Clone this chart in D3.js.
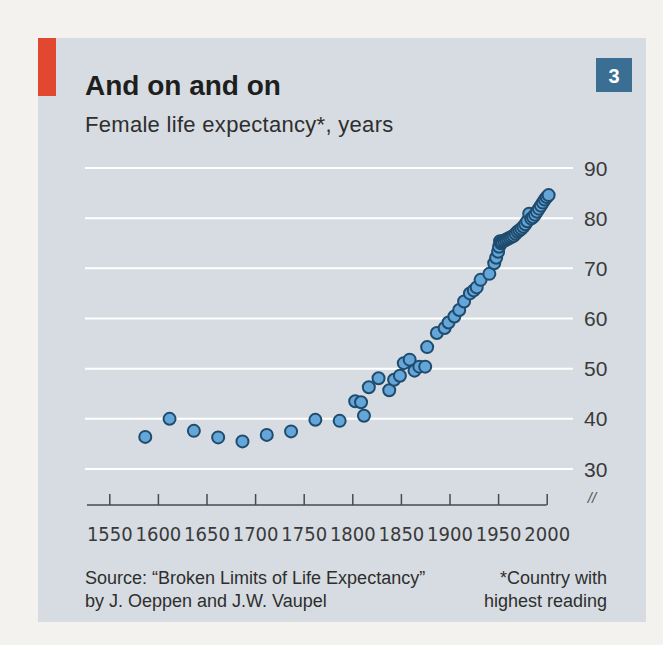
<!DOCTYPE html>
<html>
<head>
<meta charset="utf-8">
<script src="https://cdn.jsdelivr.net/npm/d3@7"></script>
<style>
  body { margin: 0; background: #f3f2ef; }
  svg { display: block; }
  text { font-family: "Liberation Sans", Arial, sans-serif; fill: #2e2e2e; }
</style>
</head>
<body>
<svg id="chart"></svg>
<script>
// Female life expectancy (record, years)
var years = [1587, 1612, 1637, 1662, 1687, 1712, 1737, 1762, 1787,
  1803, 1809, 1812, 1817, 1827, 1838, 1843, 1849, 1853, 1859, 1864, 1869, 1875, 1877,
  1887, 1895, 1899, 1905, 1910, 1915, 1921, 1925, 1928, 1932, 1941, 1946, 1948,
  1950, 1951, 1952, 1953, 1954, 1956, 1958, 1960, 1962, 1964, 1966, 1968, 1970,
  1972, 1974, 1976, 1978, 1980, 1982, 1984, 1986, 1988, 1990, 1992, 1994, 1996,
  1998, 2000, 2002];
var lifeExp = [36.4, 40.0, 37.6, 36.3, 35.5, 36.8, 37.5, 39.8, 39.6,
  43.5, 43.3, 40.6, 46.3, 48.1, 45.7, 47.8, 48.6, 51.1, 51.8, 49.6, 50.4, 50.4, 54.3,
  57.1, 58.1, 59.2, 60.4, 61.7, 63.4, 65.0, 65.6, 66.2, 67.7, 68.9, 71.0, 72.1,
  73.3, 74.3, 75.4, 75.0, 75.3, 75.5, 75.7, 75.9, 76.1, 76.3, 76.5, 76.9, 77.3,
  77.6, 77.9, 78.3, 78.8, 79.4, 80.9, 79.9, 80.2, 80.7, 81.3, 81.9, 82.5, 83.1,
  83.7, 84.2, 84.6];
var yTicks = [30, 40, 50, 60, 70, 80, 90];
var xTicks = [1550, 1600, 1650, 1700, 1750, 1800, 1850, 1900, 1950, 2000];

var width = 663, height = 645;

var svg = d3.select("#chart")
  .attr("width", width)
  .attr("height", height);

// panel
svg.append("rect")
  .attr("x", 38).attr("y", 38)
  .attr("width", 608).attr("height", 584)
  .attr("fill", "#d6dce1");
svg.append("rect")
  .attr("x", 38).attr("y", 38)
  .attr("width", 18).attr("height", 58)
  .attr("fill", "#e2472f");

// title block
svg.append("text")
  .attr("x", 85).attr("y", 95)
  .style("font-size", "28px")
  .style("font-weight", "bold")
  .style("fill", "#1e1e1e")
  .text("And on and on");
svg.append("text")
  .attr("x", 85).attr("y", 132)
  .style("font-size", "22px")
  .style("letter-spacing", "0.3px")
  .text("Female life expectancy*, years");

svg.append("rect")
  .attr("x", 596).attr("y", 58)
  .attr("width", 36).attr("height", 34)
  .attr("fill", "#3b6e93");
svg.append("text")
  .attr("x", 614).attr("y", 83)
  .attr("text-anchor", "middle")
  .style("font-size", "20px")
  .style("font-weight", "bold")
  .style("fill", "#ffffff")
  .text("3");

var x = d3.scaleLinear().domain([1550, 2000]).range([109.3, 546.7]);
var y = d3.scaleLinear().domain([30, 90]).range([469, 168]);

// gridlines + y labels
var grid = svg.append("g");
grid.selectAll("line")
  .data(yTicks)
  .enter().append("line")
  .attr("x1", 85).attr("x2", 573)
  .attr("y1", d => y(d)).attr("y2", d => y(d))
  .attr("stroke", "#ffffff")
  .attr("stroke-width", 2);
grid.selectAll("text")
  .data(yTicks)
  .enter().append("text")
  .attr("x", 584)
  .attr("y", d => y(d))
  .attr("dy", "0.36em")
  .style("font-size", "21px")
  .style("fill", "#3a3a3a")
  .text(d => d);

// axis break mark
svg.append("text")
  .attr("x", 592).attr("y", 503)
  .attr("text-anchor", "middle")
  .style("font-size", "15px")
  .style("font-style", "italic")
  .style("fill", "#555")
  .text("//");

// x axis
var xAxis = d3.axisBottom(x)
  .tickValues(xTicks)
  .tickFormat(d3.format("d"))
  .tickSizeInner(-11)
  .tickSizeOuter(0)
  .tickPadding(22);
var gx = svg.append("g")
  .attr("transform", "translate(0,505)")
  .call(xAxis);
gx.select(".domain")
  .attr("d", "M87,0H" + x(2000))
  .attr("stroke", "#4a4a4a")
  .attr("stroke-width", 1.5);
gx.selectAll(".tick line")
  .attr("stroke", "#4a4a4a")
  .attr("stroke-width", 1.5);
gx.selectAll(".tick text")
  .style("font-family", "'Liberation Sans Narrow', 'DejaVu Sans Condensed', sans-serif")
  .style("font-size", "20px")
  .style("fill", "#3a3a3a");

// points
svg.append("g")
  .selectAll("circle")
  .data(years.map((yr, i) => ({ year: yr, value: lifeExp[i] })))
  .enter().append("circle")
  .attr("cx", d => x(d.year))
  .attr("cy", d => y(d.value))
  .attr("r", 6)
  .attr("fill", "#64a6d8")
  .attr("stroke", "#1f4c6e")
  .attr("stroke-width", 2);

// footnotes
var foot = svg.append("g").style("font-size", "18px").style("fill", "#3a3a3a");
foot.append("text").attr("x", 85).attr("y", 584)
  .text("Source: \u201cBroken Limits of Life Expectancy\u201d");
foot.append("text").attr("x", 85).attr("y", 607)
  .text("by J. Oeppen and J.W. Vaupel");
foot.append("text").attr("x", 607).attr("y", 584)
  .attr("text-anchor", "end")
  .text("*Country with");
foot.append("text").attr("x", 607).attr("y", 607)
  .attr("text-anchor", "end")
  .text("highest reading");
</script>
</body>
</html>
